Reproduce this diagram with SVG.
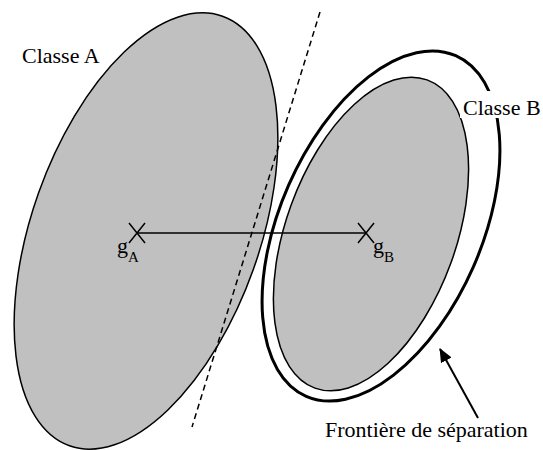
<svg xmlns="http://www.w3.org/2000/svg" width="543" height="450" viewBox="0 0 543 450">
<style>
text{font-family:"Liberation Serif","Times New Roman",serif;fill:#000}
.lbl{font-size:22px}
.sub{font-size:15px}
.shape{stroke:#000;stroke-width:1.5}
.gray{fill:#c0c0c0}
.ln{stroke:#000;stroke-width:1.5;fill:none}
</style>
<defs>
<marker id="ah" markerWidth="14" markerHeight="12" refX="13" refY="6" orient="auto" markerUnits="userSpaceOnUse">
<path d="M0,0 L14,6 L0,12 z" fill="#000"/>
</marker>
</defs>
<rect width="543" height="450" fill="#fff"/>
<g id="classA">
<ellipse class="shape gray" cx="146" cy="231" rx="114" ry="228" transform="rotate(19.6 146 231)"/>
<text class="lbl" x="22" y="63">Classe A</text>
</g>
<g id="classB">
<ellipse cx="381" cy="226" rx="101" ry="186" transform="rotate(23.7 381 226)" fill="#fff" stroke="#000" stroke-width="3"/>
<ellipse class="shape gray" cx="371" cy="234" rx="85" ry="164" transform="rotate(20 371 234)"/>
<rect x="460" y="91" width="83" height="27" fill="#fff"/>
<text class="lbl" x="463" y="115">Classe B</text>
</g>
<g id="connectors">
<line class="ln" x1="320" y1="12" x2="192" y2="427" stroke-dasharray="6 4"/>
<line class="ln" x1="137" y1="233" x2="366" y2="233"/>
<line x1="478" y1="418" x2="440" y2="349" stroke="#000" stroke-width="2" marker-end="url(#ah)"/>
</g>
<g id="gA">
<path class="ln" d="M129,223 L145,243 M145,223 L129,243" stroke-width="2"/>
<text class="lbl" x="117" y="253">g<tspan class="sub" dy="9">A</tspan></text>
</g>
<g id="gB">
<path class="ln" d="M358,223 L374,243 M374,223 L358,243" stroke-width="2"/>
<text class="lbl" x="373" y="253">g<tspan class="sub" dy="9">B</tspan></text>
</g>
<g id="frontiere">
<text class="lbl" x="325" y="437">Frontière de séparation</text>
</g>
</svg>
